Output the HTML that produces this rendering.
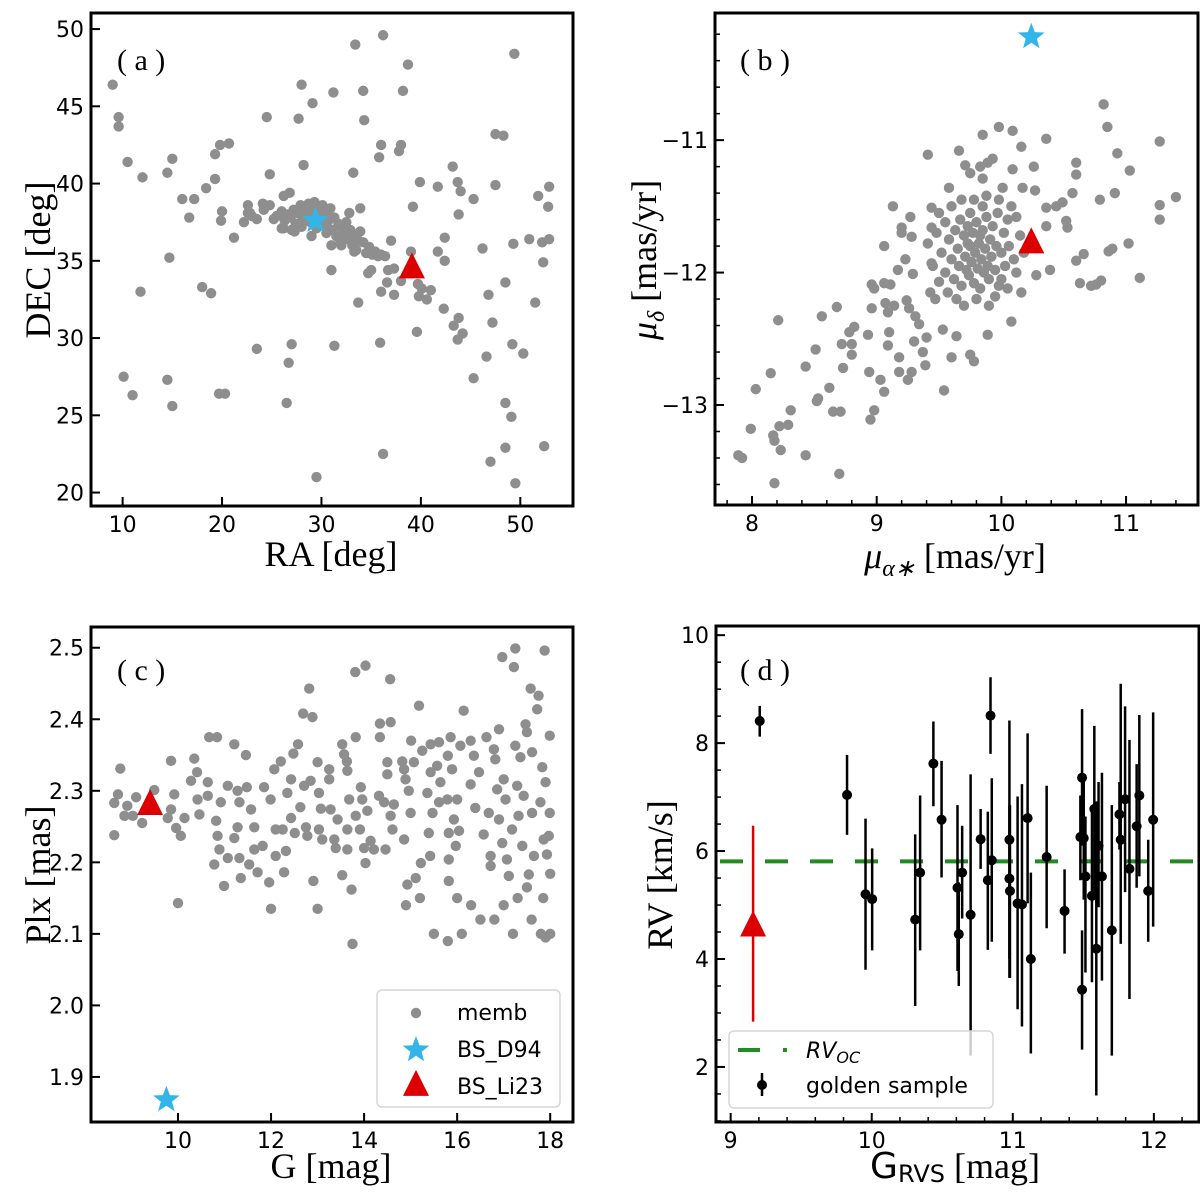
<!DOCTYPE html>
<html><head><meta charset="utf-8">
<style>
html,body{margin:0;padding:0;background:#fff;}
svg{display:block;}
.tick{font-family:"DejaVu Sans","Liberation Sans",sans-serif;font-size:22px;fill:#000;}
.axl{font-family:"Liberation Serif",serif;font-size:36px;fill:#000;}
.plab{font-family:"Liberation Serif",serif;font-size:30px;fill:#000;}
.leg{font-family:"DejaVu Sans","Liberation Sans",sans-serif;font-size:22px;fill:#000;}
</style></head>
<body>
<svg id="fig" width="1200" height="1198" viewBox="0 0 1200 1198" xmlns="http://www.w3.org/2000/svg"></svg>
<script>
// ---------- Panel (a) data: RA / DEC ----------
const aRA=[9.0,9.6,9.6,10.5,12.0,10.1,11.0,11.8,14.5,15.0,14.7,14.5,15.0,16.0,16.7,17.2,18.0,18.4,18.9,19.3,19.3,19.8,20.7,20.0,19.9,21.2,19.7,20.3,22.2,22.6,22.6,23.5,23.5,24.1,24.5,24.8,24.2,24.8,25.2,26.2,26.8,26.2,27.3,26.5,26.7,27.0,27.7,28.0,28.2,29.1,29.5,31.2,31.0,31.3,33.4,33.2,32.8,33.9,33.7,34.2,34.3,36.2,36.0,35.8,36.0,35.9,36.2,38.7,38.2,38.0,37.8,37.0,36.7,37.3,36.6,37.3,38.0,39.0,39.2,39.9,39.7,40.1,39.8,41.0,40.6,39.6,41.7,41.7,42.4,42.4,42.3,43.2,43.7,44.0,43.8,43.8,43.3,43.7,44.2,45.3,46.2,45.3,46.6,46.8,47.2,47.5,47.5,48.3,48.5,48.5,49.1,48.5,47.0,49.4,49.3,49.2,49.5,50.3,50.9,51.5,51.8,52.2,52.3,52.4,52.9,52.8,52.9,
25.5,26,26.3,26.6,26.9,27.2,27.4,27.6,27.9,28.1,28.3,28.5,28.7,28.9,29.1,29.3,29.5,29.7,29.9,30.1,30.3,30.5,30.7,30.9,31.1,31.3,31.5,31.7,31.9,32.1,32.3,32.5,32.7,32.9,33.1,33.3,33.5,33.7,33.9,34.2,34.5,34.8,35.1,35.4,35.7,36.0,36.4,34.7,35.0,33.3,31.0,30.5,29.0,28.0,27.0,32.0,26.0,24.2,23.0,22.8];
const aDEC=[46.4,44.3,43.7,41.4,40.4,27.5,26.3,33.0,40.7,41.6,35.2,27.3,25.6,39.0,37.8,39.0,33.3,39.7,32.9,40.3,41.9,42.5,42.6,38.2,37.6,36.5,26.4,26.4,37.5,38.6,38.1,37.7,29.3,38.7,44.3,40.6,38.3,38.6,37.7,39.2,39.4,37.1,36.9,25.8,28.4,29.6,44.2,46.4,41.2,45.2,21.0,45.9,34.4,29.5,49.0,40.7,38.1,38.4,32.3,46.0,44.1,49.6,42.5,41.7,33.0,29.7,22.5,47.7,46.0,42.5,42.1,36.3,34.4,34.5,33.6,32.8,33.7,35.6,38.5,40.1,33.5,33.2,32.7,33.1,32.5,30.4,39.8,35.6,36.5,35.0,31.9,41.1,40.1,39.5,38.0,31.3,30.8,29.9,30.3,39.0,35.8,27.4,28.8,32.8,31.0,39.9,43.2,43.1,33.6,25.8,24.9,22.9,22.0,48.4,36.1,29.6,20.6,29.0,36.4,32.3,39.2,36.2,34.9,23.0,39.8,38.5,36.4,
37.9,38.2,37.6,38.0,37.8,38.3,37.4,38.1,38.6,37.7,38.3,37.9,38.7,37.5,38.2,38.8,37.1,38.4,37.8,38.6,37.3,38.1,37.6,38.4,37.0,37.8,36.6,37.4,36.3,37.1,36.8,37.5,36.4,37.0,36.0,36.6,35.7,36.3,36.9,36.2,35.5,35.9,35.4,35.6,35.3,35.4,35.3,34.2,34.4,35.6,36.0,36.8,36.6,37.2,37.0,36.0,37.1,38.6,37.9,38.1];
const aStar=[29.4,37.6];
const aTri=[39.1,34.5];
const aXTicks=[10,20,30,40,50];
const aYTicks=[20,25,30,35,40,45,50];

// ---------- Panel (b) data: proper motions ----------
const bPMRA=[8.18,7.89,7.92,7.99,8.03,8.15,8.17,8.18,8.22,8.23,8.21,8.29,8.31,8.43,8.43,8.51,8.52,8.53,8.56,8.62,8.65,8.71,8.68,8.70,8.72,8.73,8.78,8.80,8.80,8.82,8.93,8.94,8.95,8.96,8.96,8.98,8.98,9.03,9.06,9.06,9.06,9.07,9.09,9.09,9.10,9.11,9.13,9.14,9.18,9.18,9.17,9.20,9.20,9.23,9.24,9.25,9.26,9.27,9.28,9.29,9.28,9.30,9.31,9.34,9.37,9.39,9.40,9.41,9.41,9.44,9.44,9.44,9.43,9.47,9.50,9.53,9.54,9.58,9.60,9.64,9.66,9.71,9.75,9.75,9.78,9.83,9.85,9.85,9.89,9.93,9.98,10.01,9.89,10.08,10.09,10.09,10.16,10.17,10.16,10.26,10.27,10.36,10.36,10.36,10.39,10.28,10.44,10.49,10.52,10.53,10.57,10.60,10.60,10.60,10.63,10.66,10.72,10.76,10.80,10.79,10.82,10.85,10.86,10.89,10.91,10.93,11.02,11.03,11.11,11.27,11.27,11.27,11.40,
9.50,9.55,9.58,9.60,9.62,9.63,9.65,9.66,9.67,9.68,9.70,9.71,9.72,9.73,9.74,9.75,9.76,9.77,9.78,9.79,9.80,9.81,9.82,9.83,9.84,9.85,9.86,9.87,9.88,9.89,9.90,9.91,9.92,9.93,9.95,9.96,9.97,9.98,10.00,10.02,10.03,10.05,10.06,10.08,10.10,10.12,10.15,9.52,9.55,9.57,9.60,9.64,9.70,9.75,9.80,9.85,9.90,9.95,10.00,10.05,9.48,9.45,9.68,9.78,9.88,9.98,10.12,10.18,9.73,9.83];
const bPMDEC=[-13.59,-13.38,-13.40,-13.18,-12.88,-12.76,-13.23,-13.27,-13.16,-13.34,-12.36,-13.15,-13.04,-12.71,-13.38,-12.58,-12.97,-12.95,-12.33,-12.87,-13.05,-13.05,-12.26,-13.52,-12.54,-12.72,-12.45,-12.54,-12.62,-12.41,-12.47,-12.75,-13.11,-12.27,-12.09,-13.04,-12.12,-12.81,-12.90,-12.08,-11.80,-12.23,-12.30,-12.55,-12.45,-12.09,-11.50,-12.25,-12.64,-12.75,-11.98,-11.66,-11.70,-11.90,-12.21,-12.81,-12.27,-11.58,-11.73,-12.01,-12.75,-12.52,-12.33,-12.39,-12.60,-12.70,-12.49,-11.11,-11.78,-11.66,-11.51,-11.93,-12.15,-12.20,-12.07,-12.43,-12.89,-11.36,-12.64,-12.48,-11.08,-11.19,-11.25,-12.62,-12.67,-11.20,-11.29,-10.96,-11.17,-11.14,-10.90,-11.36,-12.47,-12.37,-10.93,-11.22,-11.05,-11.36,-12.15,-11.20,-11.38,-10.99,-11.51,-11.65,-11.98,-12.02,-11.50,-11.47,-11.61,-11.66,-11.40,-11.17,-11.26,-11.91,-12.08,-11.86,-12.10,-12.09,-12.06,-11.45,-10.73,-10.90,-11.84,-11.82,-11.40,-11.10,-11.78,-11.23,-12.04,-11.01,-11.49,-11.60,-11.43,
-11.55,-11.62,-11.75,-11.90,-12.05,-11.68,-11.82,-11.95,-11.60,-12.10,-11.72,-11.88,-11.98,-11.65,-12.02,-11.80,-11.92,-11.70,-12.08,-11.85,-11.62,-11.97,-11.78,-12.12,-11.90,-11.68,-12.00,-11.82,-11.58,-11.95,-12.05,-11.75,-11.88,-11.65,-11.98,-11.80,-11.55,-12.10,-11.85,-11.70,-11.95,-11.60,-11.80,-11.50,-11.90,-12.00,-11.72,-11.85,-12.00,-12.15,-11.50,-12.20,-12.25,-11.55,-12.20,-11.50,-12.25,-12.18,-12.05,-12.12,-11.70,-11.95,-11.45,-11.45,-11.42,-11.45,-11.58,-11.85,-11.78,-11.72];
const bStar=[10.24,-10.22];
const bTri=[10.24,-11.78];
const bXTicks=[8,9,10,11];
const bYTicks=[-13,-12,-11];

// ---------- Panel (c) data: G / parallax ----------
const cG=[8.76,8.63,8.71,8.63,8.85,8.91,9.10,9.03,9.23,9.49,9.85,9.92,9.85,9.78,9.96,10.06,10.14,10.28,10.35,10.41,10.42,10.46,10.64,10.64,10.67,10.84,10.82,10.85,10.92,10.89,10.78,10.99,11.07,11.07,11.21,11.21,11.28,11.32,11.28,11.32,11.35,11.46,11.48,11.57,11.64,11.53,11.64,11.71,11.82,11.85,11.96,11.99,12.07,12.10,12.21,12.25,12.28,12.32,12.10,12.35,12.43,12.43,12.48,12.51,12.58,12.63,12.69,12.71,12.75,12.78,12.82,12.89,12.85,12.91,13.00,13.03,13.07,13.03,13.10,13.25,13.25,13.28,13.36,13.39,13.43,13.53,13.57,13.53,13.63,13.64,13.64,13.64,13.68,13.73,13.81,13.82,13.82,13.93,13.91,13.96,14.00,14.03,14.03,14.07,14.14,14.21,14.32,14.34,14.34,14.43,14.46,14.50,14.50,14.56,14.57,14.57,14.61,14.64,14.82,14.86,14.89,14.86,14.93,14.96,15.00,15.01,15.07,15.11,15.18,15.22,15.25,15.36,15.39,15.42,15.43,15.43,15.47,15.57,15.61,15.61,15.64,15.79,15.80,15.82,15.82,15.82,15.86,15.89,15.93,15.97,16.00,16.04,16.07,16.14,16.29,16.29,16.36,16.39,16.47,16.57,16.63,16.68,16.72,16.72,16.79,16.82,16.86,16.90,16.90,16.97,16.97,17.00,17.04,17.07,17.11,17.18,17.22,17.25,17.25,17.29,17.32,17.36,17.40,17.43,17.47,17.50,17.54,17.58,17.61,17.61,17.65,17.72,17.75,17.79,17.83,17.86,17.88,17.90,17.93,17.97,17.99,17.99,18.00,
15.5,15.8,16.1,16.3,16.8,17.0,17.2,17.3,17.6,17.8,17.9,18.0,17.85,13.0,12.0,10.0,13.75,15.2,16.0,14.9,17.5,16.5];
const cPlx=[2.331,2.238,2.295,2.283,2.265,2.279,2.291,2.265,2.255,2.301,2.342,2.295,2.274,2.262,2.248,2.237,2.262,2.314,2.345,2.326,2.288,2.267,2.312,2.293,2.375,2.375,2.258,2.237,2.284,2.218,2.197,2.167,2.206,2.307,2.365,2.234,2.300,2.284,2.249,2.206,2.178,2.350,2.305,2.274,2.249,2.197,2.218,2.186,2.223,2.305,2.172,2.288,2.330,2.246,2.341,2.246,2.186,2.216,2.209,2.297,2.316,2.262,2.352,2.241,2.365,2.277,2.408,2.307,2.249,2.237,2.443,2.403,2.314,2.174,2.340,2.297,2.275,2.246,2.232,2.330,2.316,2.274,2.232,2.220,2.260,2.365,2.351,2.182,2.341,2.328,2.246,2.218,2.288,2.162,2.466,2.375,2.265,2.305,2.246,2.288,2.220,2.475,2.199,2.272,2.230,2.218,2.293,2.394,2.375,2.284,2.218,2.340,2.323,2.456,2.396,2.265,2.246,2.281,2.341,2.330,2.316,2.232,2.169,2.300,2.269,2.370,2.340,2.178,2.419,2.199,2.356,2.297,2.241,2.209,2.326,2.365,2.269,2.335,2.368,2.284,2.312,2.288,2.349,2.241,2.204,2.174,2.375,2.330,2.260,2.223,2.288,2.244,2.363,2.412,2.370,2.309,2.349,2.276,2.326,2.239,2.375,2.269,2.209,2.195,2.358,2.344,2.302,2.386,2.260,2.487,2.227,2.316,2.288,2.204,2.181,2.246,2.473,2.499,2.363,2.307,2.265,2.347,2.223,2.293,2.393,2.382,2.183,2.443,2.354,2.269,2.209,2.414,2.433,2.284,2.333,2.232,2.496,2.312,2.211,2.237,2.377,2.269,2.184,
2.10,2.09,2.10,2.14,2.12,2.14,2.10,2.15,2.12,2.10,2.095,2.10,2.15,2.135,2.135,2.143,2.086,2.15,2.15,2.14,2.165,2.12];
const cStar=[9.75,1.868];
const cTri=[9.4,2.28];
const cXTicks=[10,12,14,16,18];
const cYTicks=[1.9,2.0,2.1,2.2,2.3,2.4,2.5];

// ---------- Panel (d) data: G_RVS / RV ----------
const dG=[9.206,9.825,9.956,10.003,10.308,10.343,10.437,10.495,10.608,10.617,10.641,10.701,10.772,10.823,10.842,10.851,10.976,10.976,10.980,11.034,11.065,11.105,11.128,11.240,11.367,11.479,11.491,11.491,11.503,11.515,11.561,11.578,11.592,11.608,11.632,11.702,11.756,11.765,11.796,11.827,11.878,11.897,11.960,11.995];
const dRV=[8.41,7.04,5.20,5.11,4.73,5.60,7.62,6.58,5.32,4.46,5.60,4.82,6.22,5.46,8.51,5.83,6.21,5.49,5.26,5.03,5.01,6.61,4.00,5.89,4.89,6.26,7.36,3.43,6.24,5.53,5.17,6.78,4.19,6.10,5.53,4.53,6.68,6.21,6.96,5.67,6.46,7.03,5.26,6.58];
const dHi=[8.69,7.78,6.60,6.05,6.31,7.03,8.40,7.67,6.85,5.42,6.47,7.42,6.78,6.73,9.22,7.35,8.42,6.85,6.85,7.01,7.24,8.18,5.60,7.21,5.66,7.03,8.63,4.53,7.38,6.64,6.78,8.32,6.92,7.28,7.45,6.85,7.28,9.10,8.68,8.06,7.61,8.52,6.21,8.57];
const dLo=[8.12,6.30,3.80,4.16,3.13,4.16,6.83,5.51,3.78,3.50,4.75,2.21,5.67,4.17,7.80,4.32,4.00,3.65,3.65,3.07,2.75,5.03,2.25,4.57,4.10,5.46,6.10,2.32,5.10,3.75,3.57,5.21,1.47,4.96,3.60,2.21,6.03,4.28,5.24,3.26,5.32,5.53,4.32,4.60];
const dTri=[9.159,4.60];
const dTriHi=[6.47];
const dTriLo=[2.84];
const dRVoc=[5.81];
const dXTicks=[9,10,11,12];
const dYTicks=[2,4,6,8,10];

// ---------- drawing ----------
const NS='http://www.w3.org/2000/svg';
const svg=document.getElementById('fig');
function mk(tag,attrs,parent){const e=document.createElementNS(NS,tag);for(const k in attrs)e.setAttribute(k,attrs[k]);(parent||svg).appendChild(e);return e;}
function scale(d0,d1,p0,p1){return v=>p0+(v-d0)*(p1-p0)/(d1-d0);}
function starPath(cx,cy,R){const r=R*0.42;let s='';for(let i=0;i<10;i++){const a=-Math.PI/2+i*Math.PI/5;const rr=i%2?r:R;s+=(i?'L':'M')+(cx+rr*Math.cos(a)).toFixed(1)+','+(cy+rr*Math.sin(a)).toFixed(1);}return s+'Z';}
function triPath(cx,cy,w,h){return `M${cx},${cy-h*0.62}L${cx+w/2},${cy+h*0.38}L${cx-w/2},${cy+h*0.38}Z`;}

function axes(p){
  const g=mk('g',{});
  
  
  const X=scale(p.x0,p.x1,p.L,p.R), Y=scale(p.y0,p.y1,p.B,p.T);
  const plot=mk('g',{},g);
  
  
  if(p.xminor){for(let v=Math.ceil(p.x0/p.xminor)*p.xminor;v<=p.x1;v+=p.xminor){const x=X(v);const t=mk('line',{x1:x,x2:x,y1:p.B,y2:p.B-5,stroke:'#000','stroke-width':1.5},g);}}
  if(p.yminor){for(let v=Math.ceil(p.y0/p.yminor)*p.yminor;v<=p.y1;v+=p.yminor){const y=Y(v);const t=mk('line',{x1:p.L,x2:p.L+5,y1:y,y2:y,stroke:'#000','stroke-width':1.5},g);}}
  p.xt.forEach(v=>{const x=X(v);
    const t=mk('line',{x1:x,x2:x,y1:p.B,y2:p.B-9,stroke:'#000','stroke-width':2},g);
    
    
    const l=mk('text',{x:x,y:p.B+26,'text-anchor':'middle',class:'tick'},g);l.textContent=p.xf(v);
    
    });
  p.yt.forEach(v=>{const y=Y(v);
    const t=mk('line',{x1:p.L,x2:p.L+9,y1:y,y2:y,stroke:'#000','stroke-width':2},g);
    
    
    const l=mk('text',{x:p.L-7,y:y+8,'text-anchor':'end',class:'tick'},g);l.textContent=p.yf(v);
    
    });
  return {g,plot,X,Y};
}
function frame(p,g){const f=mk('rect',{x:p.L,y:p.T,width:p.R-p.L,height:p.B-p.T,fill:'none',stroke:'#000','stroke-width':3},g);
  
  }
function dots(plot,X,Y,xs,ys,r){for(let i=0;i<xs.length;i++){const c=mk('circle',{cx:X(xs[i]),cy:Y(ys[i]),r:r,fill:'#8e8e8e'},plot);
  
  }}
function star(plot,x,y,R){const s=mk('path',{d:starPath(x,y,R),fill:'#33b5ea'},plot);
  
  }
function tri(plot,x,y,w,h){const s=mk('path',{d:triPath(x,y,w,h),fill:'#dd0000'},plot);
  
  }
function txt(x,y,s,cls,extra,name){const t=mk('text',Object.assign({x:x,y:y,class:cls},extra||{}));t.textContent=s;
  
  return t;}

// Panel a
const pa={name:'panel-a',L:91,R:573,T:13,B:506,x0:6.82,x1:55.3,y0:19.13,y1:51.04,xt:aXTicks,yt:aYTicks,xf:v=>v,yf:v=>v};
let A=axes(pa);
dots(A.plot,A.X,A.Y,aRA,aDEC,5.2);
star(A.plot,A.X(aStar[0]),A.Y(aStar[1]),14);
tri(A.plot,A.X(aTri[0]),A.Y(aTri[1]),26,26);
frame(pa,A.g);
txt(117,70,'( a )','plab',{},'panel-a-label');
txt(331,566,'RA [deg]','axl',{'text-anchor':'middle'},'x-axis-title-a');
txt(50,260,'DEC [deg]','axl',{'text-anchor':'middle',transform:'rotate(-90 50 260)'},'y-axis-title-a');

// Panel b
const pb={name:'panel-b',L:715,R:1198,T:13,B:505,x0:7.703,x1:11.577,y0:-13.755,y1:-10.04,xt:bXTicks,yt:bYTicks,xminor:0.2,yminor:0.2,xf:v=>v,yf:v=>'\u2212'+Math.abs(v)};
let B=axes(pb);
dots(B.plot,B.X,B.Y,bPMRA,bPMDEC,5.2);
star(B.plot,B.X(bStar[0]),B.Y(bStar[1]),14);
tri(B.plot,B.X(bTri[0]),B.Y(bTri[1]),26,26);
frame(pb,B.g);
txt(740,70,'( b )','plab',{},'panel-b-label');
(function(){const t=txt(955,568,'','axl',{'text-anchor':'middle'},'x-axis-title-b');
  t.innerHTML='<tspan font-style="italic">μ</tspan><tspan font-style="italic" font-size="24" dy="8">α∗</tspan><tspan dy="-8"> [mas/yr]</tspan>';})();
(function(){const t=txt(656,260,'','axl',{'text-anchor':'middle',transform:'rotate(-90 656 260)'},'y-axis-title-b');
  t.innerHTML='<tspan font-style="italic">μ</tspan><tspan font-style="italic" font-size="24" dy="8">δ</tspan><tspan dy="-8"> [mas/yr]</tspan>';})();

// Panel c
const pc={name:'panel-c',L:91,R:573,T:627,B:1122,x0:8.13,x1:18.49,y0:1.837,y1:2.529,xt:cXTicks,yt:cYTicks,xf:v=>v,yf:v=>v.toFixed(1)};
let C=axes(pc);
dots(C.plot,C.X,C.Y,cG,cPlx,5.2);
star(C.plot,C.X(cStar[0]),C.Y(cStar[1]),14);
tri(C.plot,C.X(cTri[0]),C.Y(cTri[1]),26,26);
frame(pc,C.g);
txt(117,680,'( c )','plab',{},'panel-c-label');
txt(331,1178,'G [mag]','axl',{'text-anchor':'middle'},'x-axis-title-c');
txt(50,875,'Plx [mas]','axl',{'text-anchor':'middle',transform:'rotate(-90 50 875)'},'y-axis-title-c');
(function(){const lg=mk('g',{});
  
  
  mk('rect',{x:377,y:990,width:183,height:117,rx:5,fill:'#fff','fill-opacity':0.8,stroke:'#d6d6d6','stroke-width':1.5},lg);
  const c=mk('circle',{cx:416,cy:1013,r:5.2,fill:'#8e8e8e'},lg);
  
  
  mk('path',{d:starPath(416,1050,14),fill:'#33b5ea'},lg);
  mk('path',{d:triPath(416,1086,26,26),fill:'#dd0000'},lg);
  [['memb',1020],['BS_D94',1057],['BS_Li23',1094]].forEach(e=>{const t=mk('text',{x:457,y:e[1],class:'leg'},lg);t.textContent=e[0];
    
    });})();

// Panel d
const pd={name:'panel-d',L:716,R:1199,T:626,B:1122,x0:8.896,x1:12.32,y0:0.98,y1:10.17,xt:dXTicks,yt:dYTicks,xminor:0.2,yminor:0.5,xf:v=>v,yf:v=>v};
let D=axes(pd);
(function(){const y=D.Y(dRVoc[0]);const l=mk('line',{x1:pd.L+4,x2:pd.R,y1:y,y2:y,stroke:'#228b22','stroke-width':4,'stroke-dasharray':'23 22'},D.plot);
  
  })();
for(let i=0;i<dG.length;i++){const x=D.X(dG[i]);
  const e=mk('line',{x1:x,x2:x,y1:D.Y(dHi[i]),y2:D.Y(dLo[i]),stroke:'#000','stroke-width':2.5},D.plot);
  
  
  const c=mk('circle',{cx:x,cy:D.Y(dRV[i]),r:5,fill:'#000'},D.plot);
  
  }
(function(){const x=D.X(dTri[0]);const e=mk('line',{x1:x,x2:x,y1:D.Y(dTriHi[0]),y2:D.Y(dTriLo[0]),stroke:'#dd0000','stroke-width':2.5},D.plot);
  
  
  tri(D.plot,x,D.Y(dTri[1]),26,26);})();
frame(pd,D.g);
txt(740,680,'( d )','plab',{},'panel-d-label');
(function(){const t=txt(955,1178,'','axl',{'text-anchor':'middle'},'x-axis-title-d');
  t.innerHTML='<tspan font-family="DejaVu Sans" font-size="36">G</tspan><tspan font-family="DejaVu Sans" font-size="24" dy="4">RVS</tspan><tspan dy="-4"> [mag]</tspan>';})();
txt(672,875,'RV [km/s]','axl',{'text-anchor':'middle',transform:'rotate(-90 672 875)'},'y-axis-title-d');
(function(){const lg=mk('g',{});
  
  
  mk('rect',{x:729,y:1031,width:264,height:77,rx:5,fill:'#fff','fill-opacity':0.8,stroke:'#d6d6d6','stroke-width':1.5},lg);
  mk('line',{x1:738,x2:760,y1:1050,y2:1050,stroke:'#228b22','stroke-width':4},lg);
  mk('rect',{x:783,y:1048,width:4,height:4,fill:'#228b22'},lg);
  mk('line',{x1:762,x2:762,y1:1073,y2:1096,stroke:'#000','stroke-width':2.5},lg);
  mk('circle',{cx:762,cy:1085,r:5,fill:'#000'},lg);
  const t1=mk('text',{x:806,y:1058,class:'leg'},lg);
  t1.innerHTML='<tspan font-style="italic">RV</tspan><tspan font-style="italic" font-size="16" dy="5">OC</tspan>';
  
  
  const t2=mk('text',{x:806,y:1093,class:'leg'},lg);t2.textContent='golden sample';
  
  })();
</script>
</body></html>
